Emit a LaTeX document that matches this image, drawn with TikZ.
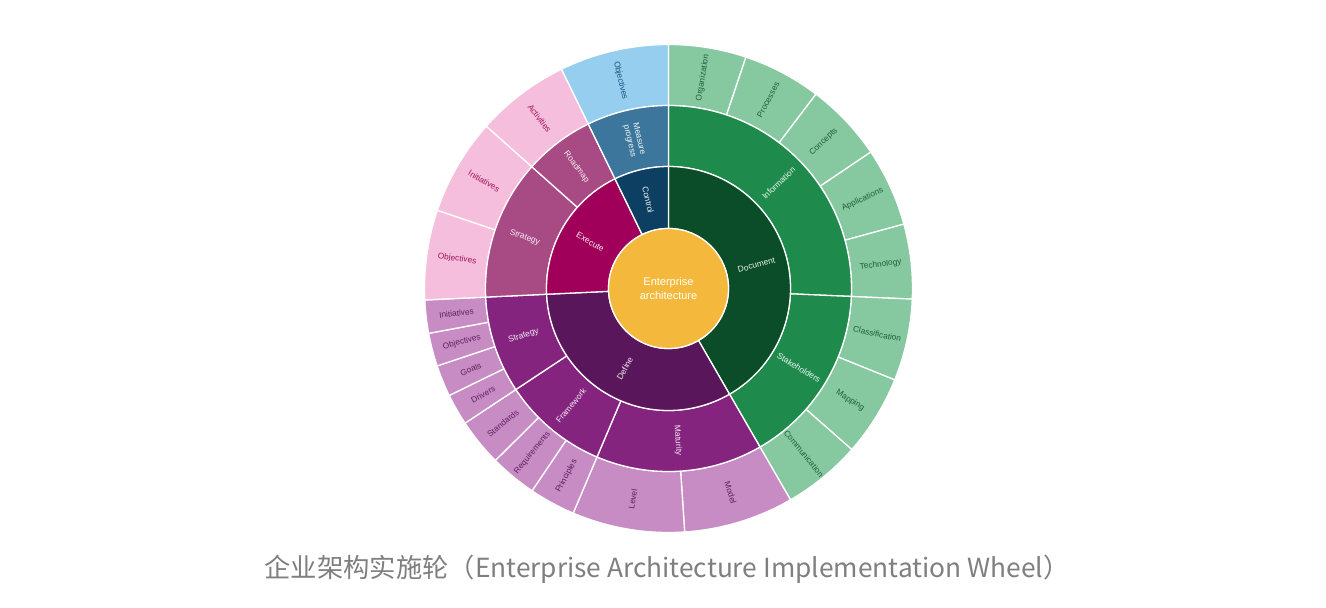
\documentclass[tikz,border=0pt]{standalone}
\usepackage{fontspec}
\setmainfont{Liberation Sans}
\newfontfamily\cjkfont{Noto Sans CJK SC}
\usepackage{xcolor}

\definecolor{coreyellow}{HTML}{F4B93C}
\definecolor{docdark}{HTML}{0A4D28}
\definecolor{docmid}{HTML}{1E8A4C}
\definecolor{docleaf}{HTML}{86C8A0}
\definecolor{docleaftext}{HTML}{215E3C}
\definecolor{ctrldark}{HTML}{0C3F62}
\definecolor{ctrlmid}{HTML}{3C769C}
\definecolor{ctrlleaf}{HTML}{96CEF0}
\definecolor{ctrlleaftext}{HTML}{1E4D78}
\definecolor{execdark}{HTML}{A0005A}
\definecolor{execmid}{HTML}{A84A84}
\definecolor{execleaf}{HTML}{F4BEDC}
\definecolor{execleaftext}{HTML}{A3145F}
\definecolor{defdark}{HTML}{5A165A}
\definecolor{defmid}{HTML}{84247E}
\definecolor{defleaf}{HTML}{C88CC4}
\definecolor{defleaftext}{HTML}{5E1F5E}
\definecolor{captiongray}{HTML}{7F7F7F}

% ring segment: inner radius, outer radius, start angle, end angle, colour
\newcommand{\ringseg}[5]{%
  \filldraw[fill=#5, segline] (#3:#1pt) -- (#3:#2pt)
    arc[start angle=#3, end angle=#4, radius=#2pt] -- (#4:#1pt)
    arc[start angle=#4, end angle=#3, radius=#1pt] -- cycle;
}
% radial label: angle, radius, style, name, text
\newcommand{\seglabel}[5]{%
  \pgfmathsetmacro{\labrot}{cos(#1)<0 ? #1-180 : #1}
  \node[#3, rotate=\labrot] (#4) at (#1:#2pt) {#5};
}

\begin{document}
\begin{tikzpicture}[
    segline/.style={draw=white, line width=1.3pt, line join=round},
    innertext/.style={font=\fontsize{8.4pt}{9.6pt}\selectfont, text=white, text opacity=0.92, align=center, inner sep=0pt},
    leaftext/.style={font=\fontsize{8.3pt}{9.6pt}\selectfont, inner sep=0pt},
    coretext/.style={font=\fontsize{11pt}{13.4pt}\selectfont, text=white, align=center},
    captiontext/.style={font=\cjkfont\fontsize{26.3pt}{30pt}\selectfont, text=captiongray}
  ]
  \fill[white] (-668.5pt,-319.5pt) rectangle (657.5pt,288.5pt);
  \useasboundingbox (-668.5pt,-319.5pt) rectangle (657.5pt,288.5pt);

  % outer ring
  \ringseg{183}{244}{71.5}{90}{docleaf}
  \ringseg{183}{244}{52.8}{71.5}{docleaf}
  \ringseg{183}{244}{34}{52.8}{docleaf}
  \ringseg{183}{244}{15.3}{34}{docleaf}
  \ringseg{183}{244}{-2.5}{15.3}{docleaf}
  \ringseg{183}{244}{-22}{-2.5}{docleaf}
  \ringseg{183}{244}{-41.3}{-22}{docleaf}
  \ringseg{183}{244}{-60}{-41.3}{docleaf}
  \ringseg{183}{244}{273.8}{300}{defleaf}
  \ringseg{183}{244}{247}{273.8}{defleaf}
  \ringseg{183}{244}{236}{247}{defleaf}
  \ringseg{183}{244}{224.8}{236}{defleaf}
  \ringseg{183}{244}{213.5}{224.8}{defleaf}
  \ringseg{183}{244}{206}{213.5}{defleaf}
  \ringseg{183}{244}{198.5}{206}{defleaf}
  \ringseg{183}{244}{190.6}{198.5}{defleaf}
  \ringseg{183}{244}{182.7}{190.6}{defleaf}
  \ringseg{183}{244}{161.3}{182.7}{execleaf}
  \ringseg{183}{244}{138.3}{161.3}{execleaf}
  \ringseg{183}{244}{116}{138.3}{execleaf}
  \ringseg{183}{244}{90}{116}{ctrlleaf}

  % middle ring
  \ringseg{122}{183}{-2.5}{90}{docmid}
  \ringseg{122}{183}{-60}{-2.5}{docmid}
  \ringseg{122}{183}{247}{300}{defmid}
  \ringseg{122}{183}{213.5}{247}{defmid}
  \ringseg{122}{183}{182.7}{213.5}{defmid}
  \ringseg{122}{183}{138.3}{182.7}{execmid}
  \ringseg{122}{183}{116}{138.3}{execmid}
  \ringseg{122}{183}{90}{116}{ctrlmid}

  % inner ring
  \ringseg{60}{122}{-60}{90}{docdark}
  \ringseg{60}{122}{182.7}{300}{defdark}
  \ringseg{60}{122}{116}{182.7}{execdark}
  \ringseg{60}{122}{90}{116}{ctrldark}

  \filldraw[fill=coreyellow, segline] (0,0) circle[radius=60pt];
  \node[coretext] (core) at (0,0) {Enterprise\\architecture};

  \seglabel{15}{91}{innertext}{document}{Document}
  \seglabel{241.35}{91}{innertext}{define}{Define}
  \seglabel{149.35}{91}{innertext}{execute}{Execute}
  \seglabel{103}{91}{innertext}{control}{Control}

  \seglabel{43.75}{152.5}{innertext}{information}{Information}
  \seglabel{-31.25}{152.5}{innertext}{stakeholders}{Stakeholders}
  \seglabel{273.5}{152.5}{innertext}{maturity}{Maturity}
  \seglabel{230.25}{152.5}{innertext}{framework}{Framework}
  \seglabel{198.1}{152.5}{innertext}{strategydef}{Strategy}
  \seglabel{160.5}{152.5}{innertext}{strategyexe}{Strategy}
  \seglabel{127.15}{152.5}{innertext}{roadmap}{Roadmap}
  \seglabel{103}{152.5}{innertext}{measure}{Measure\\progress}

  \seglabel{80.75}{213.5}{leaftext, text=docleaftext}{organization}{Organization}
  \seglabel{62.15}{213.5}{leaftext, text=docleaftext}{processes}{Processes}
  \seglabel{43.4}{213.5}{leaftext, text=docleaftext}{concepts}{Concepts}
  \seglabel{24.65}{213.5}{leaftext, text=docleaftext}{applications}{Applications}
  \seglabel{6.4}{213.5}{leaftext, text=docleaftext}{technology}{Technology}
  \seglabel{-12.25}{213.5}{leaftext, text=docleaftext}{classification}{Classification}
  \seglabel{-31.65}{213.5}{leaftext, text=docleaftext}{mapping}{Mapping}
  \seglabel{-50.65}{213.5}{leaftext, text=docleaftext}{communication}{Communication}
  \seglabel{286.9}{213.5}{leaftext, text=defleaftext}{model}{Model}
  \seglabel{260.4}{213.5}{leaftext, text=defleaftext}{level}{Level}
  \seglabel{241.5}{213.5}{leaftext, text=defleaftext}{principles}{Principles}
  \seglabel{230.4}{213.5}{leaftext, text=defleaftext}{requirements}{Requirements}
  \seglabel{219.15}{213.5}{leaftext, text=defleaftext}{standards}{Standards}
  \seglabel{209.75}{213.5}{leaftext, text=defleaftext}{drivers}{Drivers}
  \seglabel{202.25}{213.5}{leaftext, text=defleaftext}{goals}{Goals}
  \seglabel{194.55}{213.5}{leaftext, text=defleaftext}{objectivesdef}{Objectives}
  \seglabel{186.65}{213.5}{leaftext, text=defleaftext}{initiativesdef}{Initiatives}
  \seglabel{172}{213.5}{leaftext, text=execleaftext}{objectivesexe}{Objectives}
  \seglabel{149.8}{213.5}{leaftext, text=execleaftext}{initiativesexe}{Initiatives}
  \seglabel{127.15}{213.5}{leaftext, text=execleaftext}{activities}{Activities}
  \seglabel{103}{213.5}{leaftext, text=ctrlleaftext}{objectivesctrl}{Objectives}

  \node[captiontext] (caption) at (-1.5pt,-280.5pt) {企业架构实施轮（Enterprise Architecture Implementation Wheel）};
\end{tikzpicture}
\end{document}
